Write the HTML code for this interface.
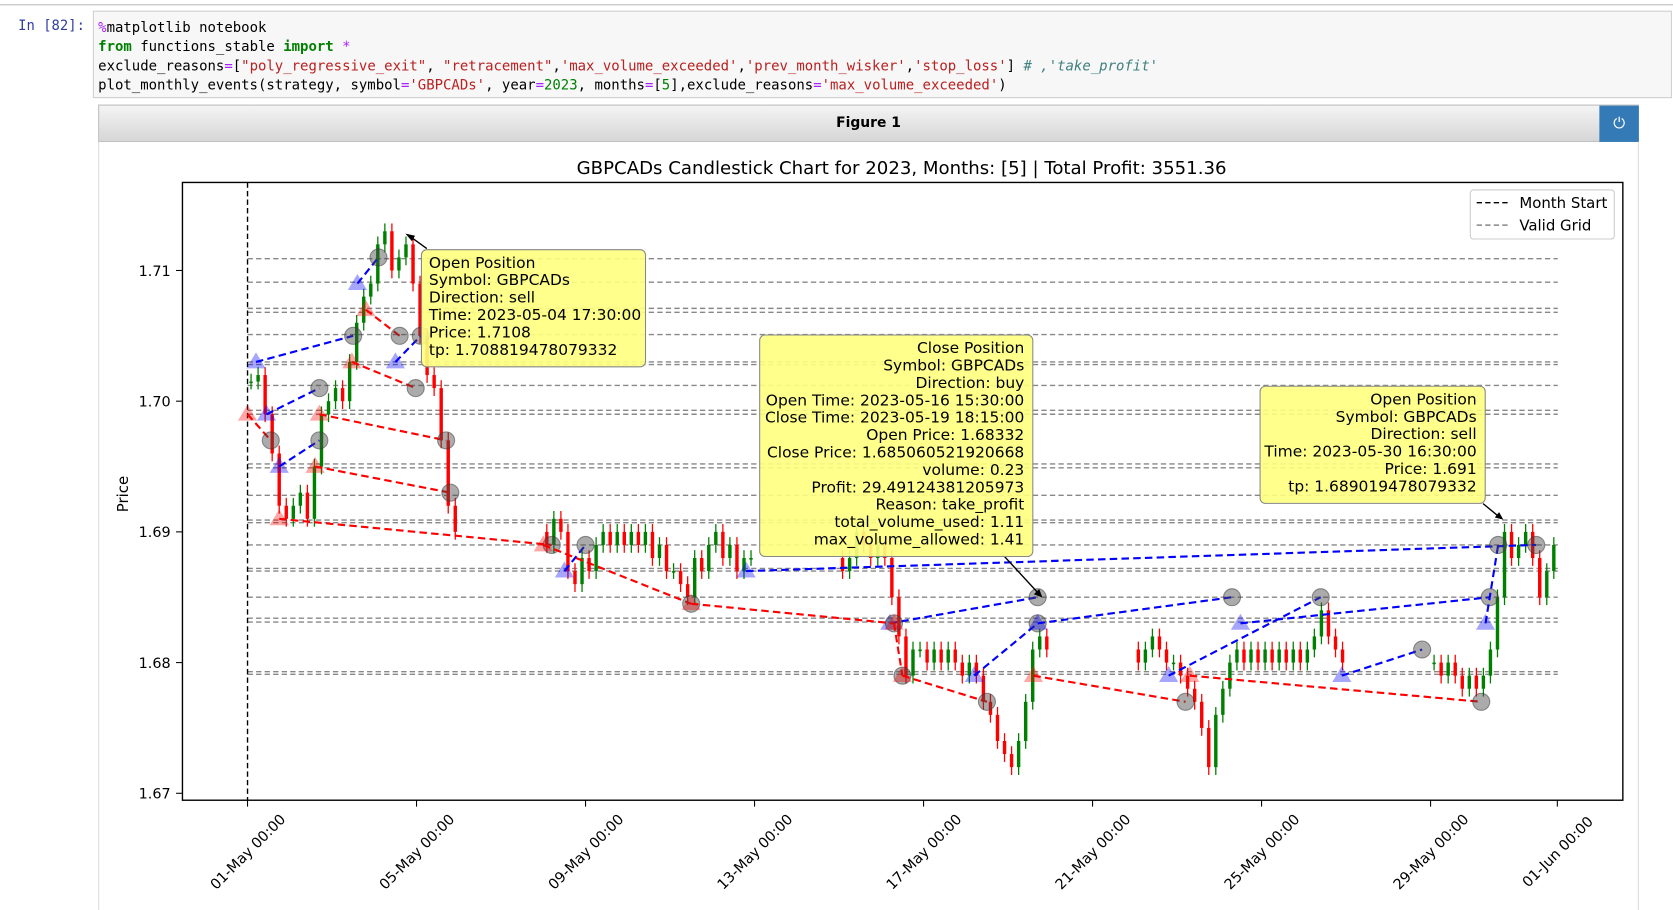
<!DOCTYPE html>
<html><head><meta charset="utf-8"><style>
body{margin:0;width:1673px;height:905px;background:#fff;overflow:hidden;font-family:"DejaVu Sans","Liberation Sans",sans-serif}
#wrap{position:absolute;left:0;top:0;width:1568px;height:848px;transform:scale(1.06696);transform-origin:0 0}
.abs{position:absolute}
.code{left:87px;top:10px;width:1480px;height:82px;background:#f7f7f7;border:1px solid #cfcfcf;box-sizing:border-box;font-family:"DejaVu Sans Mono","Liberation Mono",monospace;font-size:13.1px;line-height:18px;padding:7px 0 0 4px;white-space:pre;color:#000}
.kw{color:#008000;font-weight:bold}.st{color:#ba2121}.nm{color:#008000}.op{color:#aa22ff}.cm{color:#408080;font-style:italic}
</style></head><body>
<div id="wrap">
<div class="abs" style="left:0;top:4px;width:1568px;height:1px;background:#bbb"></div>
<div class="abs" style="left:17px;top:17px;font-family:'DejaVu Sans Mono',monospace;font-size:13px;color:#303f9f">In [82]:</div>
<div class="abs code"><span class="op">%</span>matplotlib notebook
<span class="kw">from</span> functions_stable <span class="kw">import</span> <span class="op">*</span>
exclude_reasons<span class="op">=</span>[<span class="st">"poly_regressive_exit"</span>, <span class="st">"retracement"</span>,<span class="st">'max_volume_exceeded'</span>,<span class="st">'prev_month_wisker'</span>,<span class="st">'stop_loss'</span>] <span class="cm"># ,'take_profit'</span>
plot_monthly_events(strategy, symbol<span class="op">=</span><span class="st">'GBPCADs'</span>, year<span class="op">=</span><span class="nm">2023</span>, months<span class="op">=</span>[<span class="nm">5</span>],exclude_reasons<span class="op">=</span><span class="st">'max_volume_exceeded'</span>)</div>
<div class="abs" style="left:92px;top:98px;width:1444px;height:35px;background:linear-gradient(#f4f4f4,#d6d6d6);border:1px solid #bbb;box-sizing:border-box;text-align:center;font:bold 13px 'DejaVu Sans',sans-serif;line-height:33px">Figure 1</div>
<div class="abs" style="left:1499px;top:99px;width:37px;height:34px;background:#337ab7;color:#fff;text-align:center;line-height:34px;font-size:14px">⏻</div>
<div class="abs" style="left:92px;top:133px;width:1px;height:720px;background:#ddd"></div>
<div class="abs" style="left:1535px;top:133px;width:1px;height:720px;background:#ddd"></div>
<svg class="abs" style="left:0;top:0" width="1568" height="848" id="chart"></svg>
</div>
<script>
const tradingDays=[1,2,3,4,5,8,9,10,11,12,15,16,17,18,19,22,23,24,25,26,29,30,31];
const closes=[
[1.7015,1.702,1.699,1.696,1.692,1.691],[1.692,1.693,1.691,1.695,1.699,1.700],[1.701,1.700,1.703,1.706,1.708,1.709],[1.712,1.713,1.710,1.711,1.712,1.709],[1.705,1.702,1.701,1.697,1.692,1.690],
[1.689,1.691,1.690,1.687,1.686,1.688],[1.687,1.689,1.690,1.689,1.690,1.689],[1.690,1.689,1.690,1.688,1.689,1.687],[1.687,1.686,1.685,1.688,1.687,1.689],[1.690,1.688,1.689,1.687,1.688,1.688],
[1.687,1.688,1.690,1.689,1.688,1.689],[1.688,1.685,1.682,1.679,1.681,1.681],[1.680,1.681,1.680,1.681,1.680,1.679],[1.680,1.679,1.677,1.676,1.674,1.673],[1.672,1.674,1.677,1.681,1.682,1.681],
[1.680,1.681,1.682,1.681,1.680,1.680],[1.679,1.678,1.677,1.675,1.672,1.676],[1.678,1.680,1.681,1.680,1.681,1.680],[1.681,1.680,1.681,1.680,1.681,1.680],[1.681,1.682,1.684,1.682,1.681,1.680],
[1.680,1.679,1.680,1.679,1.678,1.679],[1.678,1.679,1.681,1.685,1.690,1.688],[1.689,1.690,1.688,1.685,1.687,1.689]];
const gridLevels=[1.7109,1.7091,1.7071,1.7068,1.7051,1.7030,1.7028,1.7012,1.6993,1.6990,1.6952,1.6949,1.6928,1.6909,1.6907,1.6890,1.6872,1.6870,1.6850,1.6834,1.6831,1.6793,1.6791];
const buyTrades=[[0.2,1.7030,2.5,1.7050],[0.45,1.6990,1.7,1.7010],[0.75,1.6950,1.7,1.6970],[2.6,1.7090,3.1,1.7110],[3.5,1.7030,4.1,1.7050],[7.5,1.6870,8.0,1.6890],[11.8,1.6870,30.5,1.6890],[15.2,1.6830,18.7,1.6850],[17.2,1.6790,18.7,1.6830],[18.7,1.6830,23.3,1.6850],[21.8,1.6790,25.4,1.6850],[23.5,1.6830,29.4,1.6850],[25.9,1.6790,27.8,1.6810],[29.3,1.6830,29.6,1.6890]];
const sellTrades=[[0.0,1.6990,0.55,1.6970],[1.6,1.6950,4.8,1.6930],[0.75,1.6910,7.2,1.6890],[1.7,1.6990,4.7,1.6970],[2.47,1.7030,3.98,1.7010],[2.8,1.7070,3.6,1.7050],[7.0,1.6890,10.5,1.6845],[10.5,1.6845,15.3,1.6830],[15.3,1.6830,15.5,1.6790],[15.5,1.6790,17.5,1.6770],[18.6,1.6790,22.2,1.6770],[22.3,1.6790,29.2,1.6770]];
const yTicks=[1.67,1.68,1.69,1.70,1.71];
const xTickDays=[0,4,8,12,16,20,24,28,31];
const xTickLabels=["01-May 00:00","05-May 00:00","09-May 00:00","13-May 00:00","17-May 00:00","21-May 00:00","25-May 00:00","29-May 00:00","01-Jun 00:00"];

const svg=document.getElementById('chart');const NS='http://www.w3.org/2000/svg';
function X(d){return 232+d*39.6;}function Y(p){return 376-(p-1.70)*12250;}
function mk(tag,a,parent){const e=document.createElementNS(NS,tag);for(const k in a)e.setAttribute(k,a[k]);(parent||svg).appendChild(e);return e;}
function txt(s,a){const t=mk('text',a);t.textContent=s;return t;}
const t0=txt('GBPCADs Candlestick Chart for 2023, Months: [5] | Total Profit: 3551.36',{x:845,y:163,'text-anchor':'middle','font-size':17,'font-family':'DejaVu Sans,sans-serif'});


gridLevels.forEach(p=>{const l=mk('line',{x1:232,x2:1460,y1:Y(p),y2:Y(p),stroke:'#888','stroke-width':1.3,'stroke-dasharray':'5,3'});

});
const ms=mk('line',{x1:232,x2:232,y1:171,y2:750,stroke:'#000','stroke-width':1.3,'stroke-dasharray':'5,3'});


let prev=closes[0][0];
tradingDays.forEach((day,i)=>{closes[i].forEach((c,j)=>{
 const d=(day-1)+(j+0.5)/6;const o=prev;const up=c>=o;const col=up?'green':'red';
 const hi=Math.max(o,c)+0.0006,lo=Math.min(o,c)-0.0006;
 const g=mk('g',{});
 
 
 mk('line',{x1:X(d),x2:X(d),y1:Y(hi),y2:Y(lo),stroke:col,'stroke-width':1.2},g);
 mk('rect',{x:X(d)-1.6,y:Math.min(Y(o),Y(c)),width:3.2,height:Math.max(1.5,Math.abs(Y(o)-Y(c))),fill:col},g);
 prev=c;});});
function drawTrades(arr,col,name){arr.forEach(t=>{
 const l=mk('line',{x1:X(t[0]),y1:Y(t[1]),x2:X(t[2]),y2:Y(t[3]),stroke:col,'stroke-width':2,'stroke-dasharray':'7,4'});
 
 
 const x=X(t[0]),y=Y(t[1]);
 const tri=mk('polygon',{points:`${x},${y-9} ${x-9},${y+6} ${x+9},${y+6}`,fill:col,'fill-opacity':0.35});
 
 
 const c=mk('circle',{cx:X(t[2]),cy:Y(t[3]),r:8,fill:'#444','fill-opacity':0.45,stroke:'#333','stroke-opacity':0.5});
 
 });}
drawTrades(buyTrades,'blue','buy');drawTrades(sellTrades,'red','sell');
const fr=mk('rect',{x:171,y:171,width:1350,height:579,fill:'none',stroke:'#000','stroke-width':1.3});


yTicks.forEach(p=>{mk('line',{x1:165,x2:171,y1:Y(p),y2:Y(p),stroke:'#000'});
 const t=txt(p.toFixed(2),{x:160,y:Y(p)+5,'text-anchor':'end','font-size':13.5,'font-family':'DejaVu Sans,sans-serif'});
 
 });
xTickDays.forEach((d,i)=>{mk('line',{x1:X(d),x2:X(d),y1:750,y2:756,stroke:'#000'});
 const cx=X(d),cy=798;
 const t=txt(xTickLabels[i],{x:cx,y:cy+5,'text-anchor':'middle','font-size':13.5,'font-family':'DejaVu Sans,sans-serif',transform:`rotate(-45 ${cx} ${cy})`});
 
 });
const yl=txt('Price',{x:120,y:463,'text-anchor':'middle','font-size':14,'font-family':'DejaVu Sans,sans-serif',transform:'rotate(-90 120 463)'});


function box(x,y,w,lines,align,name){
 const g=mk('g',{});
 
 mk('rect',{x:x,y:y,width:w,height:lines.length*16.3+12,rx:5,fill:'#ffff80','fill-opacity':0.9,stroke:'#888'},g);
 lines.forEach((s,i)=>{const t=mk('text',{x:align==='end'?x+w-8:x+7,y:y+17+i*16.3,'text-anchor':align,'font-size':14.5,'font-family':'DejaVu Sans,sans-serif'},g);t.textContent=s;});}
mk('line',{x1:400,y1:233,x2:382,y2:220,stroke:'#000','stroke-width':1.3});mk('polygon',{points:'380,219 389,221 386,226',fill:'#000'});
mk('line',{x1:940,y1:520,x2:975,y2:558,stroke:'#000','stroke-width':1.3});mk('polygon',{points:'977,560 969,557 974,552',fill:'#000'});
mk('line',{x1:1390,y1:472,x2:1407,y2:486,stroke:'#000','stroke-width':1.3});mk('polygon',{points:'1409,487 1401,485 1405,480',fill:'#000'});
box(395,234,210,['Open Position','Symbol: GBPCADs','Direction: sell','Time: 2023-05-04 17:30:00','Price: 1.7108','tp: 1.708819478079332'],'start','annotation-open-may4');
box(712,314,256,['Close Position','Symbol: GBPCADs','Direction: buy','Open Time: 2023-05-16 15:30:00','Close Time: 2023-05-19 18:15:00','Open Price: 1.68332','Close Price: 1.685060521920668','volume: 0.23','Profit: 29.49124381205973','Reason: take_profit','total_volume_used: 1.11','max_volume_allowed: 1.41'],'end','annotation-close-may19');
box(1181,362,211,['Open Position','Symbol: GBPCADs','Direction: sell','Time: 2023-05-30 16:30:00','Price: 1.691','tp: 1.689019478079332'],'end','annotation-open-may30');
const lg=mk('g',{});

mk('rect',{x:1378,y:178,width:135,height:46,rx:3,fill:'#fff',stroke:'#ccc'},lg);
mk('line',{x1:1384,x2:1414,y1:190,y2:190,stroke:'#000','stroke-width':1.3,'stroke-dasharray':'5,3'},lg);
mk('line',{x1:1384,x2:1414,y1:211,y2:211,stroke:'#888','stroke-width':1.3,'stroke-dasharray':'5,3'},lg);
let a=mk('text',{x:1424,y:195,'font-size':14,'font-family':'DejaVu Sans,sans-serif'},lg);a.textContent='Month Start';
a=mk('text',{x:1424,y:216,'font-size':14,'font-family':'DejaVu Sans,sans-serif'},lg);a.textContent='Valid Grid';
</script>
</body></html>
